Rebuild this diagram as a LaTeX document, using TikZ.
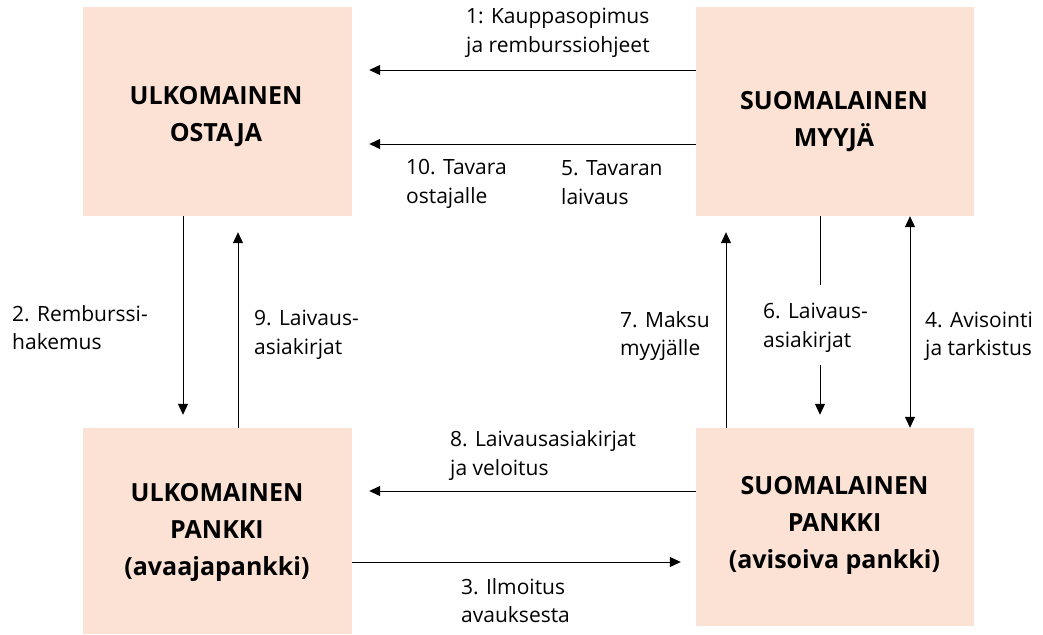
\documentclass[tikz,border=0pt]{standalone}
\usepackage{fontspec}
\setmainfont{Open Sans}
\usetikzlibrary{arrows.meta}
\definecolor{peach}{HTML}{FBE2D5}
\begin{document}
\begin{tikzpicture}[x=1pt,y=-1pt,
  box/.style={fill=peach, draw=none, inner sep=0pt},
  boxtext/.style={anchor=north, inner sep=0pt, align=center, font=\fontsize{25}{37}\selectfont\bfseries},
  ln/.style={line width=1pt},
  arr/.style={line width=1pt, -{Triangle[length=11pt,width=10pt]}},
  darr/.style={line width=1pt, {Triangle[length=11pt,width=10pt]}-{Triangle[length=11pt,width=10pt]}},
  lab/.style={anchor=north west, inner sep=0pt, align=left, font=\fontsize{21}{28.5}\selectfont}]
\useasboundingbox (0,0) rectangle (1043,634);
% boxes
\node[box, minimum width=269pt, minimum height=209pt] (buyer) at (217.5,111.5) {};
\node[box, minimum width=278pt, minimum height=209pt] (seller) at (835,111.5) {};
\node[box, minimum width=269pt, minimum height=206pt] (fbank) at (217.5,531) {};
\node[box, minimum width=278pt, minimum height=198pt] (sbank) at (835,527) {};
% box texts
\node[boxtext] (buyer-t) at (216,86) {ULKOMAINEN\\OSTAJA};
\node[boxtext] (seller-t) at (834,91) {SUOMALAINEN\\MYYJÄ};
\node[boxtext] (fbank-t) at (217,483) {ULKOMAINEN\\PANKKI\\(avaajapankki)};
\node[boxtext] (sbank-t) at (834.5,476) {SUOMALAINEN\\PANKKI\\(avisoiva pankki)};
% coordinates for the split arrow 6
\coordinate (c6a) at (820,285);
\coordinate (c6b) at (820,365);
% connectors
\draw[arr, shorten >=17pt] (seller.west |- 0,70) -- (buyer.east |- 0,70);
\draw[arr, shorten >=17pt] (seller.west |- 0,144) -- (buyer.east |- 0,144);
\draw[arr, shorten >=13pt] (buyer.south -| 183,0) -- (fbank.north -| 183,0);
\draw[arr, shorten >=16pt] (fbank.north -| 238,0) -- (buyer.south -| 238,0);
\draw[arr, shorten >=16pt] (sbank.north -| 726,0) -- (seller.south -| 726,0);
\draw[ln] (seller.south -| c6a) -- (c6a);
\draw[arr, shorten >=13pt] (c6b) -- (sbank.north -| c6b);
\draw[darr] (seller.south -| 910,0) -- (sbank.north -| 910,0);
\draw[arr, shorten >=17pt] (sbank.west |- 0,491) -- (fbank.east |- 0,491);
\draw[arr, shorten >=15pt] (fbank.east |- 0,562) -- (sbank.west |- 0,562);
% labels
\node[lab] (l1) at (466,8) {1: Kauppasopimus\\ja remburssiohjeet};
\node[lab] (l10) at (406,159.5) {10. Tavara\\ostajalle};
\node[lab] (l5) at (561,160.5) {5. Tavaran\\laivaus};
\node[lab] (l2) at (12,305) {2. Remburssi-\\hakemus};
\node[lab] (l9) at (254,310) {9. Laivaus-\\asiakirjat};
\node[lab] (l7) at (620,311) {7. Maksu\\myyjälle};
\node[lab] (l6) at (763,303) {6. Laivaus-\\asiakirjat};
\node[lab] (l4) at (925,311.5) {4. Avisointi\\ja tarkistus};
\node[lab] (l8) at (450,430.5) {8. Laivausasiakirjat\\ja veloitus};
\node[lab] (l3) at (461,578) {3. Ilmoitus\\avauksesta};
\end{tikzpicture}
\end{document}
